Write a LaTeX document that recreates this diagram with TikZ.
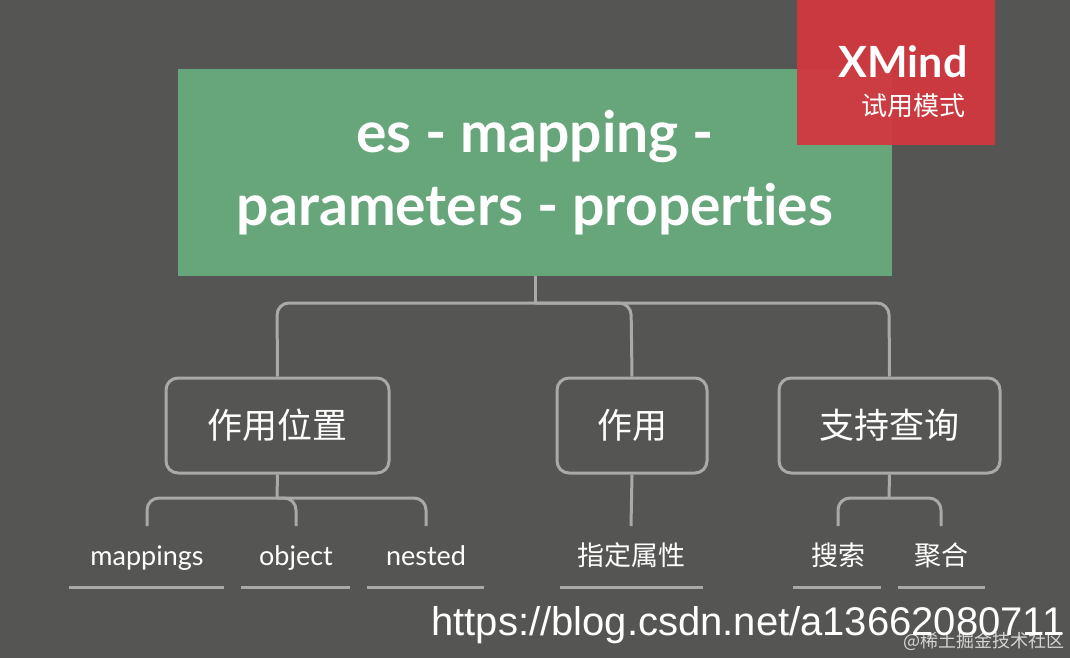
\documentclass[tikz,border=0pt]{standalone}
\usepackage{fontspec}
\setmainfont{Lato}[Ligatures=NoCommon]
\newfontfamily\cjk{Noto Sans CJK SC}
\newfontfamily\urlf{Liberation Sans}
\definecolor{bg}{HTML}{555653}
\definecolor{grn}{HTML}{67A57B}
\definecolor{xred}{HTML}{D1383F}
\definecolor{ln}{HTML}{A9A9A7}
\begin{document}
\begin{tikzpicture}[x=1pt,y=-1pt,
  conn/.style={draw=ln,line width=3pt,rounded corners=12pt},
  sub/.style={draw=ln,line width=3pt,rounded corners=12pt,text=white,font=\cjk\fontsize{35}{38}\selectfont,inner sep=0pt},
  leaf/.style={text=white,anchor=base,font=\fontsize{27}{28}\selectfont},
  cleaf/.style={leaf,font=\cjk\fontsize{27}{28}\selectfont},
  uline/.style={draw=ln,line width=3pt}]
\fill[bg] (0,0) rectangle (1070,658);
\useasboundingbox (0,0) rectangle (1070,658);
\node[fill=grn,minimum width=714pt,minimum height=207pt,inner sep=0pt,text=white,align=center,font=\bfseries\fontsize{57}{73}\selectfont] (root) at (535,172.5) {es - mapping -\\parameters - properties};
\node[fill=xred,fill opacity=0.95,minimum width=198pt,minimum height=145pt,inner sep=0pt] (xm) at (896,72.5) {};
\node[text=white,anchor=east,font=\bfseries\fontsize{43}{44}\selectfont] (xmt) at (971,62) {XMind};
\node[text=white,anchor=east,font=\cjk\fontsize{26}{28}\selectfont] (xms) at (969,106) {试用模式};
\node[sub,minimum width=223pt,minimum height=95pt] (a) at (277.5,425.5) {作用位置};
\node[sub,minimum width=150pt,minimum height=95pt] (b) at (632,425.5) {作用};
\node[sub,minimum width=221pt,minimum height=95pt] (c) at (889.5,425.5) {支持查询};
\coordinate (j1) at (535,303);
\draw[conn] (root.south) -- (j1);
\draw[conn] (a.north) -- (277,303) -- (889,303) -- (c.north);
\draw[conn] (j1) -- (631,303) -- (b.north);
\node[leaf] (l1) at (147,565) {mappings};
\node[leaf] (l2) at (296,565) {object};
\node[leaf] (l3) at (426,565) {nested};
\node[cleaf] (l4) at (631,565) {指定属性};
\node[cleaf] (l5) at (838,565) {搜索};
\node[cleaf] (l6) at (941,565) {聚合};
\draw[uline] (69,587) -- (224,587); \draw[uline] (241,587) -- (350,587);
\draw[uline] (367,587) -- (484,587); \draw[uline] (560,587) -- (703,587);
\draw[uline] (793,587) -- (881,587); \draw[uline] (898,587) -- (985,587);
\coordinate (j2) at (277,498);
\draw[conn] (a.south) -- (j2);
\draw[conn] (147,526) -- (147,498) -- (426,498) -- (426,526);
\draw[conn] (j2) -- (296,498) -- (296,526);
\draw[conn] (b.south) -- (631,526);
\coordinate (j3) at (889,498);
\draw[conn] (c.south) -- (j3);
\draw[conn] (838,526) -- (838,498) -- (941,498) -- (941,526);
\node[text=white!75!bg,anchor=east,font=\cjk\fontsize{18}{20}\selectfont] (wm2) at (1068,641) {@稀土掘金技术社区};
\node[text=white,anchor=east,font=\urlf\fontsize{40}{42}\selectfont] (wm) at (1068,625) {https://blog.csdn.net/a13662080711};
\end{tikzpicture}
\end{document}
